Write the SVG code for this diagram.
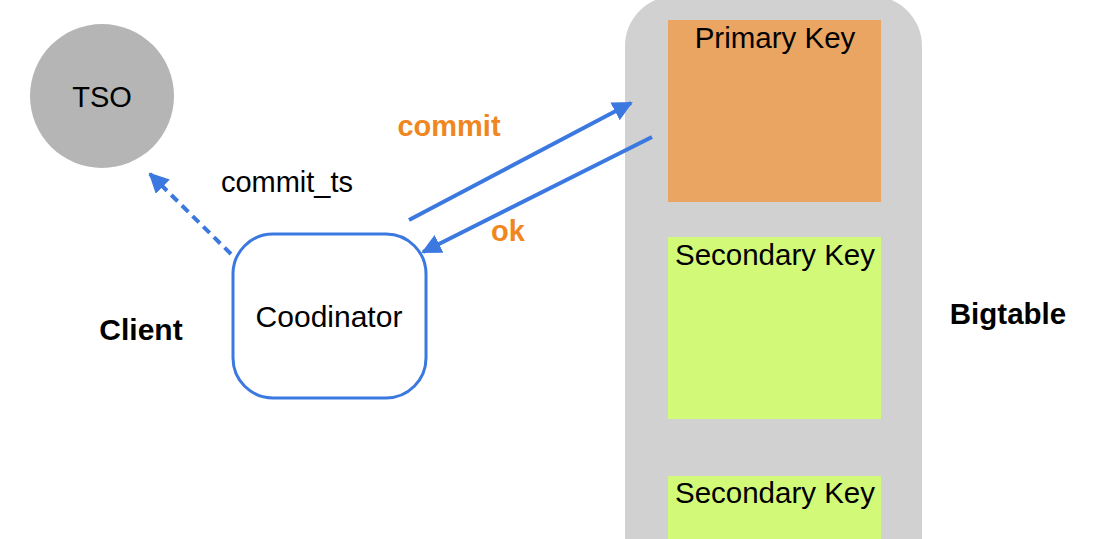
<svg xmlns="http://www.w3.org/2000/svg" width="1098" height="539" viewBox="0 0 1098 539">
<style>
text{font-family:"Liberation Sans",Arial,sans-serif;fill:#000}
.b{font-weight:bold}
.o{font-weight:bold;fill:#f0861e}
.conn{stroke:#3b78e0;stroke-width:4;fill:none}
</style>
<defs>
<marker id="ah" viewBox="0 0 10 10" refX="9" refY="5" markerWidth="5" markerHeight="5" markerUnits="strokeWidth" orient="auto">
<path d="M0,0 L10,5 L0,10 z" fill="#3b78e0"/>
</marker>
</defs>
<rect width="1098" height="539" fill="#fff"/>
<g id="bigtable">
<rect x="625" y="-4" width="297" height="620" rx="50" fill="#d1d1d1"/>
<text x="1008" y="324" font-size="29.5" class="b" text-anchor="middle">Bigtable</text>
</g>
<g id="primary">
<rect x="668" y="20" width="213" height="182" fill="#eba562"/>
<text x="775" y="48" font-size="29.5" text-anchor="middle">Primary Key</text>
</g>
<g id="secondary1">
<rect x="668" y="237" width="213" height="182" fill="#d2fa78"/>
<text x="775" y="265" font-size="29.5" text-anchor="middle">Secondary Key</text>
</g>
<g id="secondary2">
<rect x="668" y="476" width="213" height="80" fill="#d2fa78"/>
<text x="775" y="503" font-size="29.5" text-anchor="middle">Secondary Key</text>
</g>
<g id="tso">
<circle cx="102" cy="96" r="72" fill="#b5b5b5"/>
<text x="102" y="107" font-size="29" text-anchor="middle">TSO</text>
</g>
<g id="coordinator">
<rect x="233" y="234" width="193" height="164" rx="40" fill="#fff" stroke="#3b78e0" stroke-width="3"/>
<text x="329" y="327" font-size="30" text-anchor="middle">Coodinator</text>
</g>
<g id="client">
<text x="141" y="340" font-size="30" class="b" text-anchor="middle">Client</text>
</g>
<g id="connectors">
<line class="conn" x1="231" y1="254" x2="150" y2="174" stroke-dasharray="9,6" marker-end="url(#ah)"/>
<line class="conn" x1="409" y1="220" x2="631" y2="103" marker-end="url(#ah)"/>
<line class="conn" x1="652" y1="137" x2="423" y2="252" marker-end="url(#ah)"/>
<text x="287" y="192" font-size="29" text-anchor="middle">commit_ts</text>
<text x="449" y="136" font-size="29" class="o" text-anchor="middle">commit</text>
<text x="508" y="241" font-size="29" class="o" text-anchor="middle">ok</text>
</g>
</svg>
